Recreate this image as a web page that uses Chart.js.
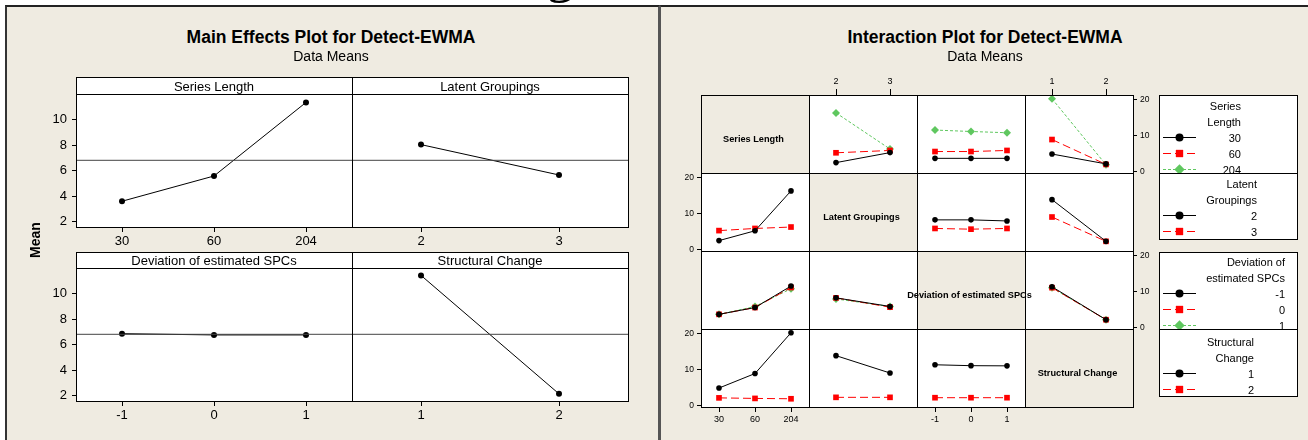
<!DOCTYPE html>
<html>
<head>
<meta charset="utf-8">
<script src="https://cdn.jsdelivr.net/npm/chart.js@4.4.1/dist/chart.umd.min.js"></script>
<style>
  html, body { margin: 0; padding: 0; background: #fff; }
  #stage { position: relative; width: 1308px; height: 440px; overflow: hidden;
           font-family: 'Liberation Sans', Arial, sans-serif; color: #000; }
</style>
</head>
<body>
<div id="stage"></div>
<script>
// ---------------- data ----------------
const factorNames = ['Series Length', 'Latent Groupings', 'Deviation of estimated SPCs', 'Structural Change'];
const seriesLevels = ['30', '60', '204'];
const latentLevels = ['2', '3'];
const deviationLevels = ['-1', '0', '1'];
const structuralLevels = ['1', '2'];

// main effects (means of Detect-EWMA at each factor level)
const seriesMeans = [3.59, 5.57, 11.34];
const latentMeans = [8.03, 5.65];
const deviationMeans = [6.85, 6.75, 6.75];
const structuralMeans = [11.42, 2.13];
const grandMean = 6.8;
const mainTicks = [2, 4, 6, 8, 10];

// interaction means: rows = levels of first factor, columns = levels of second factor
const seriesByLatent = [[2.4, 5.2], [5.15, 5.8], [16.3, 6.2]];
const seriesByDeviation = [[3.6, 3.6, 3.6], [5.5, 5.5, 5.8], [11.5, 11.1, 10.75]];
const seriesByStructural = [[4.8, 2.05], [8.85, 1.9], [20.25, 1.8]];
const latentByDeviation = [[8.2, 8.2, 7.9], [5.8, 5.6, 5.8]];
const latentByStructural = [[13.85, 2.2], [9.0, 2.2]];
const deviationByStructural = [[11.3, 2.1], [11.05, 2.1], [11.0, 2.1]];
const interactionTicks = [0, 10, 20];

// ---------------- helpers ----------------
const stage = document.getElementById('stage');
const BEIGE = '#EFEBE1';
Chart.defaults.font.family = "'Liberation Sans', Arial, sans-serif";
Chart.defaults.color = '#000';

function rect(x0, y0, x1, y1, css, parent) {
  const d = document.createElement('div');
  d.style.cssText = `position:absolute;left:${x0}px;top:${y0}px;width:${x1 - x0 + 1}px;height:${y1 - y0 + 1}px;box-sizing:border-box;` + css;
  (parent || stage).appendChild(d);
  return d;
}

function text(str, x, cy, size, opts = {}) {
  const d = document.createElement('div');
  const lh = Math.round(size * 1.3);
  const w = 600;
  const align = opts.align || 'center';
  const left = align === 'right' ? x - w : align === 'left' ? x : x - w / 2;
  d.style.cssText = `position:absolute;left:${left}px;top:${cy - lh / 2}px;width:${w}px;height:${lh}px;` +
    `line-height:${lh}px;font-size:${size}px;text-align:${align};white-space:nowrap;z-index:4;` +
    (opts.bold ? 'font-weight:bold;' : '') + (opts.css || '');
  d.textContent = str;
  (opts.parent || stage).appendChild(d);
  return d;
}

const PAD = 30;
function fixAxis(s) {
  if (!s.options.display) return;
  if (s.isHorizontal()) s.height = PAD; else s.width = PAD;
  s.paddingLeft = s.paddingRight = s.paddingTop = s.paddingBottom = 0;
}

// one plotting cell: chart area is exactly [x0,x1] x [y0,y1]
function plotCell(o) {
  const w = o.x1 - o.x0, h = o.y1 - o.y0;
  const c = document.createElement('canvas');
  c.width = w + 2 * PAD; c.height = h + 2 * PAD;
  c.style.cssText = `position:absolute;left:${o.x0 - PAD}px;top:${o.y0 - PAD}px;z-index:2;`;
  stage.appendChild(c);
  new Chart(c, {
    type: 'line',
    data: { datasets: o.datasets },
    options: {
      responsive: false, animation: false, devicePixelRatio: 1, events: [],
      layout: {
        autoPadding: false,
        padding: {
          left: o.yPos === 'left' ? 0 : PAD, right: o.yPos === 'right' ? 0 : PAD,
          top: o.xPos === 'top' ? 0 : PAD, bottom: o.xPos === 'bottom' ? 0 : PAD
        }
      },
      plugins: { legend: { display: false }, tooltip: { enabled: false } },
      scales: {
        x: {
          type: 'linear', position: o.xPos || 'bottom', display: !!o.xPos,
          min: -0.5, max: o.xLabels.length - 0.5,
          afterBuildTicks: s => { s.ticks = o.xLabels.map((_, i) => ({ value: i })); },
          afterFit: fixAxis,
          ticks: { callback: v => o.xLabels[v], font: { size: o.xFont }, color: '#000',
                   padding: o.xPad, maxRotation: 0, autoSkip: false },
          grid: { display: true, drawOnChartArea: false, drawTicks: true, tickLength: o.xTick, color: '#000' },
          border: { display: false }
        },
        y: {
          type: 'linear', position: o.yPos || 'left', display: !!o.yPos,
          min: o.yMin, max: o.yMax,
          afterBuildTicks: s => { s.ticks = o.yTicks.map(v => ({ value: v })); },
          afterFit: fixAxis,
          ticks: { font: { size: o.yFont }, color: '#000', padding: o.yPad, autoSkip: false },
          grid: { display: true, drawOnChartArea: false, drawTicks: true, tickLength: o.yTick, color: '#000' },
          border: { display: false }
        }
      }
    }
  });
}

// ---------------- page frame ----------------
// caption descender from the line above
text('g', 560, -28, 56, { css: "font-family:'Liberation Serif',serif;" });
rect(5, 5, 659, 460, `background:${BEIGE};border-top:2px solid #222;border-left:2px solid #333;border-right:2px solid #555;`);
rect(660, 5, 1320, 460, `background:${BEIGE};border-top:2px solid #222;border-left:1px solid #555;`);

// ---------------- main effects plot ----------------
text('Main Effects Plot for Detect-EWMA', 331, 37, 17.5, { bold: true });
text('Data Means', 331, 56, 14);
text('Mean', 35, 240, 14, { bold: true, css: 'transform:rotate(-90deg);' });

const mainCols = [76, 352, 628];
const mainRows = [{ strip: 77, top: 94, bottom: 227 }, { strip: 252, top: 268, bottom: 401 }];
const mainPanels = [
  { name: factorNames[0], levels: seriesLevels, means: seriesMeans },
  { name: factorNames[1], levels: latentLevels, means: latentMeans },
  { name: factorNames[2], levels: deviationLevels, means: deviationMeans },
  { name: factorNames[3], levels: structuralLevels, means: structuralMeans }
];
mainPanels.forEach((p, k) => {
  const r = Math.floor(k / 2), c = k % 2;
  const x0 = mainCols[c], x1 = mainCols[c + 1], row = mainRows[r];
  rect(x0, row.strip, x1, row.top, 'background:#fff;border:1px solid #000;z-index:3;');
  rect(x0, row.top, x1, row.bottom, 'background:#fff;z-index:1;');
  rect(x0, row.top, x1, row.bottom, 'border:1px solid #000;z-index:3;');
  text(p.name, (x0 + x1) / 2, (row.strip + row.top) / 2 + 0.5, 13);
  plotCell({
    x0, x1, y0: row.top, y1: row.bottom,
    xLabels: p.levels, xPos: 'bottom', yPos: c === 0 ? 'left' : null,
    yMin: 1.57, yMax: 12.0, yTicks: mainTicks,
    xFont: 13, xPad: 2, xTick: 5, yFont: 13, yPad: 5, yTick: 4,
    datasets: [
      { data: [{ x: -0.5, y: grandMean }, { x: p.levels.length - 0.5, y: grandMean }],
        borderColor: '#444', borderWidth: 1, pointRadius: 0, tension: 0 },
      { data: p.means.map((v, i) => ({ x: i, y: v })),
        borderColor: '#000', borderWidth: 1, tension: 0,
        pointStyle: 'circle', pointRadius: 3, pointBackgroundColor: '#000', pointBorderColor: '#000', pointBorderWidth: 0 }
    ]
  });
});

// ---------------- interaction plot ----------------
text('Interaction Plot for Detect-EWMA', 985, 37, 17.5, { bold: true });
text('Data Means', 985, 56, 14);

const factorLevels = [seriesLevels, latentLevels, deviationLevels, structuralLevels];
const pairTables = {
  '0-1': seriesByLatent, '0-2': seriesByDeviation, '0-3': seriesByStructural,
  '1-2': latentByDeviation, '1-3': latentByStructural, '2-3': deviationByStructural
};
function cellMean(traceF, i, xF, j) {
  return traceF < xF ? pairTables[traceF + '-' + xF][i][j] : pairTables[xF + '-' + traceF][j][i];
}
const traceStyles = [
  { color: '#000000', dash: [], point: 'circle', radius: 2.8 },
  { color: '#FF0000', dash: [8, 4], point: 'rect', radius: 4 },
  { color: '#5FC75F', dash: [3, 2], point: 'rectRot', radius: 4 }
];

const gx = [701, 809, 917, 1025, 1133];
const gy = [95, 173, 251, 329, 407];
for (let r = 0; r < 4; r++) {
  for (let c = 0; c < 4; c++) {
    const x0 = gx[c], x1 = gx[c + 1], y0 = gy[r], y1 = gy[r + 1];
    if (r === c) {
      rect(x0, y0, x1, y1, `background:${BEIGE};z-index:1;`);
      text(factorNames[r], (x0 + x1) / 2 - 1.5, (y0 + y1) / 2 + 5, 9.2, { bold: true });
      continue;
    }
    rect(x0, y0, x1, y1, 'background:#fff;z-index:1;');
    const xPos = (r === 0 && (c === 1 || c === 3)) ? 'top' : (r === 3 && (c === 0 || c === 2)) ? 'bottom' : null;
    const yPos = (c === 0 && (r === 1 || r === 3)) ? 'left' : (c === 3 && (r === 0 || r === 2)) ? 'right' : null;
    const datasets = factorLevels[r].map((_, i) => {
      const st = traceStyles[i];
      return {
        data: factorLevels[c].map((_, j) => ({ x: j, y: cellMean(r, i, c, j) })),
        borderColor: st.color, borderWidth: 1, borderDash: st.dash, tension: 0,
        pointStyle: st.point, pointRadius: st.radius,
        pointBackgroundColor: st.color, pointBorderColor: st.color, pointBorderWidth: 0
      };
    });
    plotCell({
      x0, x1, y0, y1, xLabels: factorLevels[c], xPos, yPos,
      yMin: -0.5, yMax: 21.3, yTicks: interactionTicks,
      xFont: 9, xPad: 2, xTick: xPos === 'top' ? 6 : 5, yFont: 8.5, yPad: 3, yTick: 4,
      datasets
    });
  }
}
// grid lines of the interaction matrix
for (let r = 0; r < 4; r++) {
  for (let c = 0; c < 4; c++) {
    rect(gx[c], gy[r], gx[c + 1], gy[r + 1], 'border:1px solid #000;z-index:3;');
  }
}

// ---------------- legends ----------------
function legendBox(x0, y0, x1, y1, title, levels, rightEdge, firstY) {
  const box = rect(x0, y0, x1, y1, 'background:#fff;border:1px solid #000;overflow:hidden;z-index:3;');
  const lines = title.concat(levels);
  lines.forEach((s, k) => {
    text(s, rightEdge - x0, firstY - y0 + 16 * k, 11, { align: 'right', parent: box });
  });
  const cv = document.createElement('canvas');
  cv.width = x1 - x0; cv.height = y1 - y0;
  cv.style.cssText = 'position:absolute;left:-1px;top:-1px;';
  box.appendChild(cv);
  const ctx = cv.getContext('2d');
  levels.forEach((_, i) => {
    const st = traceStyles[i];
    const y = firstY - y0 + 16 * (title.length + i) + 0.5;
    ctx.save();
    ctx.strokeStyle = st.color; ctx.fillStyle = st.color; ctx.lineWidth = 1;
    ctx.setLineDash(st.dash);
    ctx.beginPath(); ctx.moveTo(1163 - x0, y); ctx.lineTo(1196 - x0, y); ctx.stroke();
    ctx.setLineDash([]);
    Chart.helpers.drawPoint(ctx, { pointStyle: st.point, radius: st.radius + 1.2, rotation: 0, borderWidth: 0 }, 1179.5 - x0, y);
    ctx.restore();
  });
}
legendBox(1159, 95, 1297, 173, ['Series', 'Length'], seriesLevels, 1240, 105);
legendBox(1159, 173, 1297, 239, ['Latent', 'Groupings'], latentLevels, 1256, 183);
legendBox(1159, 252, 1297, 329, ['Deviation of', 'estimated SPCs'], deviationLevels, 1284, 261);
legendBox(1159, 329, 1297, 396, ['Structural', 'Change'], structuralLevels, 1253, 341);
</script>
</body>
</html>
